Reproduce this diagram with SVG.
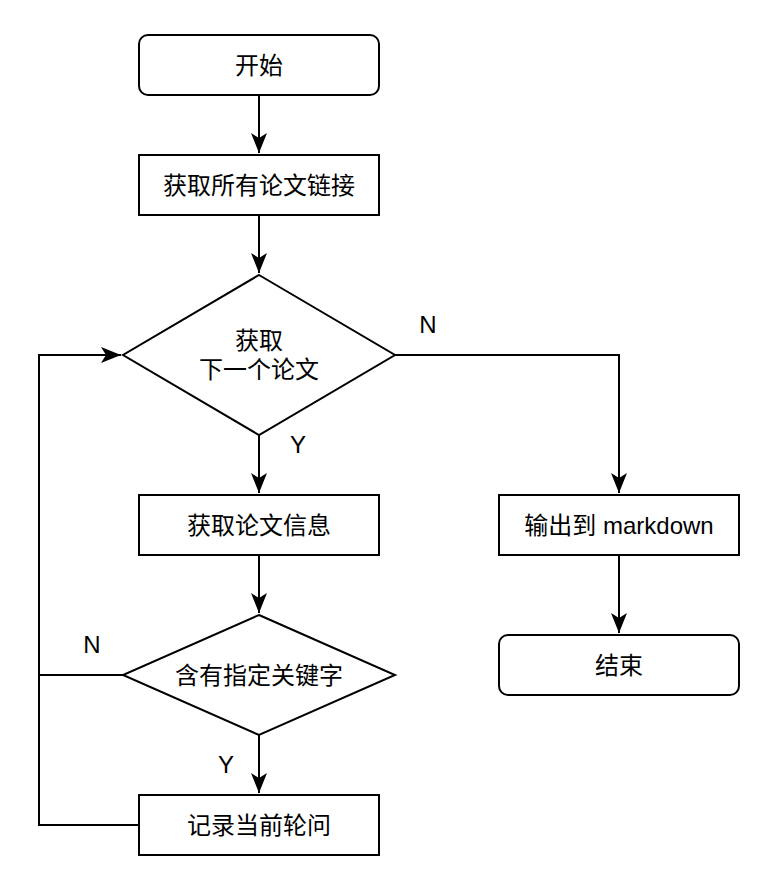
<svg xmlns="http://www.w3.org/2000/svg" width="764" height="884" viewBox="0 0 764 884">
<style>
.box{fill:#fff;stroke:#000;stroke-width:2}
.t{font-family:"Liberation Sans","Noto Sans CJK SC",sans-serif;font-size:24px;fill:#000;text-anchor:middle}
.c{fill:none;stroke:#000;stroke-width:2}
</style>
<defs>
<marker id="arr" markerUnits="userSpaceOnUse" markerWidth="22" markerHeight="18" viewBox="0 0 22 18" refX="20" refY="9" orient="auto">
<path d="M0,1 L20,9 L0,17 L5,9 Z" fill="#000"/>
</marker>
</defs>
<rect width="764" height="884" fill="#fff"/>
<g id="connectors">
<path class="c" d="M259,95 V153" marker-end="url(#arr)"/>
<path class="c" d="M259,215 V273" marker-end="url(#arr)"/>
<path class="c" d="M259,435 V493" marker-end="url(#arr)"/>
<path class="c" d="M259,555 V613" marker-end="url(#arr)"/>
<path class="c" d="M259,735 V793" marker-end="url(#arr)"/>
<path class="c" d="M395,355 H619 V493" marker-end="url(#arr)"/>
<path class="c" d="M619,555 V633" marker-end="url(#arr)"/>
<path class="c" d="M123,675 H39"/>
<path class="c" d="M139,825 H39 V355 H121" marker-end="url(#arr)"/>
<text class="t" x="428" y="333">N</text>
<text class="t" x="298" y="453">Y</text>
<text class="t" x="92" y="653">N</text>
<text class="t" x="226" y="773">Y</text>
</g>
<g id="start">
<rect class="box" x="139" y="35" width="240" height="60" rx="9"/>
<text class="t" x="259" y="74">开始</text>
</g>
<g id="getLinks">
<rect class="box" x="139" y="155" width="240" height="60"/>
<text class="t" x="259" y="194">获取所有论文链接</text>
</g>
<g id="nextPaper">
<polygon class="box" points="259,275 395,355 259,435 123,355"/>
<text class="t" x="259" y="349">获取</text>
<text class="t" x="259" y="378">下一个论文</text>
</g>
<g id="getInfo">
<rect class="box" x="139" y="495" width="240" height="60"/>
<text class="t" x="259" y="534">获取论文信息</text>
</g>
<g id="hasKeyword">
<polygon class="box" points="259,615 395,675 259,735 123,675"/>
<text class="t" x="259" y="684">含有指定关键字</text>
</g>
<g id="record">
<rect class="box" x="139" y="795" width="240" height="60"/>
<text class="t" x="259" y="834">记录当前轮问</text>
</g>
<g id="output">
<rect class="box" x="499" y="495" width="240" height="60"/>
<text class="t" x="619" y="534">输出到 markdown</text>
</g>
<g id="end">
<rect class="box" x="499" y="635" width="240" height="60" rx="9"/>
<text class="t" x="619" y="674">结束</text>
</g>
</svg>
